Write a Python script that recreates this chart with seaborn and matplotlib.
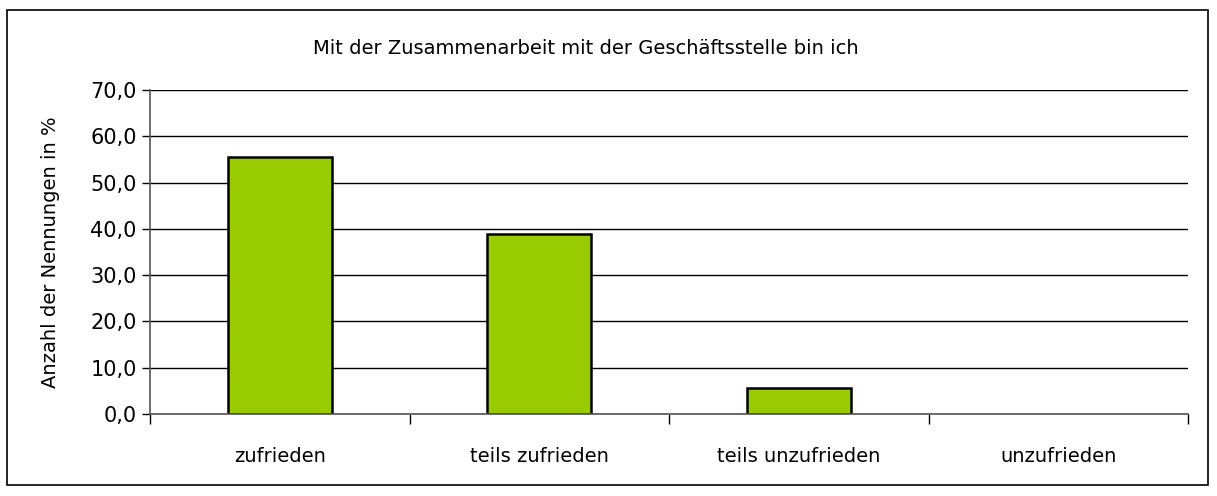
import matplotlib
matplotlib.use("Agg")
import matplotlib.pyplot as plt
import seaborn as sns
import pandas as pd
from matplotlib.patches import Rectangle

kategorien = ["zufrieden", "teils zufrieden", "teils unzufrieden", "unzufrieden"]
anteile = [55.6, 38.9, 5.6, 0.0]
yticks = [0, 10, 20, 30, 40, 50, 60, 70]

sns.set_style("white")
plt.rcParams["font.family"] = ["DejaVu Sans"]
plt.rcParams["text.color"] = "black"
plt.rcParams["xtick.color"] = "black"
plt.rcParams["ytick.color"] = "black"
plt.rcParams["axes.labelcolor"] = "black"

df = pd.DataFrame({"Kategorie": kategorien, "Anteil": anteile})

fig = plt.figure(figsize=(12.17, 4.96), dpi=100)
ax = fig.add_axes([150 / 1217, 1 - 414 / 496, (1188 - 150) / 1217, (414 - 90) / 496])

sns.barplot(data=df, x="Kategorie", y="Anteil", color="#99CC00", width=0.4,
            edgecolor="black", linewidth=1.8, saturation=1, ax=ax)
# Balken mit Wert 0 ohne Rahmen
for p in ax.patches:
    if p.get_height() == 0:
        p.set_linewidth(0)

ax.set_xlim(-0.5, 3.5)
ax.set_ylim(0, 70)
ax.set_yticks(yticks)
ax.set_yticklabels([f"{v:.1f}".replace(".", ",") for v in yticks], fontsize=15)
ax.yaxis.grid(True, color="black", linewidth=1)
ax.set_axisbelow(True)

# Kategorie-Striche zwischen den Balken
ax.set_xticks([-0.5, 0.5, 1.5, 2.5, 3.5], minor=True)
ax.set_xticks(range(4))
ax.set_xticklabels(kategorien, fontsize=14)
ax.tick_params(axis="x", which="major", length=0, pad=24)
ax.tick_params(axis="x", which="minor", bottom=True, length=7, width=1, color="black", direction="out")
ax.tick_params(axis="y", length=6, width=1, color="black", direction="out", left=True)

for s in ["top", "right"]:
    ax.spines[s].set_visible(False)
ax.spines["left"].set_color("#555555")
ax.spines["bottom"].set_color("#555555")
ax.spines["left"].set_linewidth(1.2)
ax.spines["bottom"].set_linewidth(1.2)

ax.set_xlabel("")
ax.set_ylabel("Anzahl der Nennungen in %", fontsize=14, labelpad=22)

fig.text(586 / 1217, 1 - 48 / 496, "Mit der Zusammenarbeit mit der Geschäftsstelle bin ich",
         ha="center", va="center", fontsize=14)

fig.patches.append(Rectangle((7 / 1217, 1 - 485 / 496), 1201 / 1217, 475 / 496,
                             transform=fig.transFigure, fill=False,
                             edgecolor="black", linewidth=1.2))

fig.savefig("out.png", dpi=100)
